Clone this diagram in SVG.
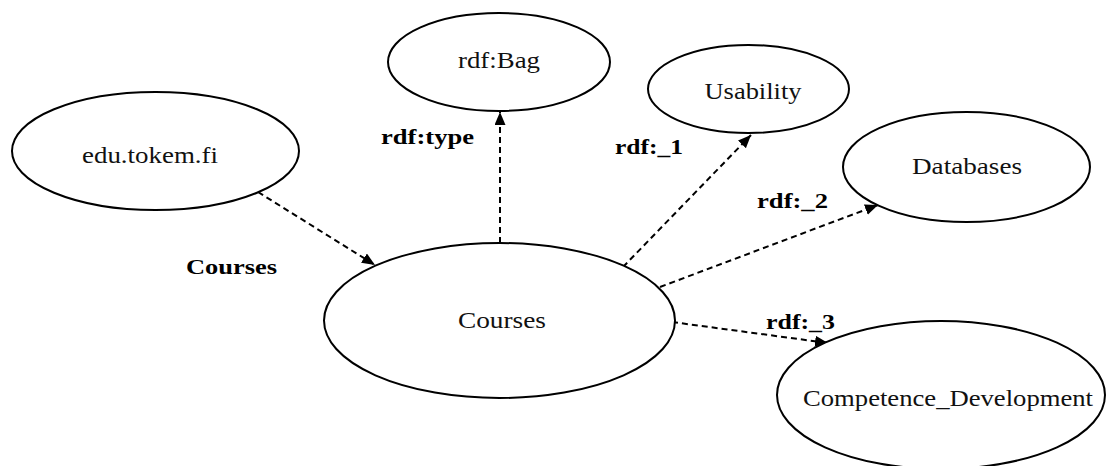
<svg xmlns="http://www.w3.org/2000/svg" width="1117" height="466" viewBox="0 0 1117 466">
  <style>
    .node ellipse { fill: #ffffff; stroke: #000000; stroke-width: 2; }
    .node text { font-family: "Liberation Serif", "Times New Roman", serif; font-size: 24px; fill: #111111; text-anchor: middle; }
    .edge { fill: none; stroke: #000000; stroke-width: 2; stroke-dasharray: 6 4; marker-end: url(#arrow); }
    .label { font-family: "Liberation Serif", "Times New Roman", serif; font-size: 22px; font-weight: bold; fill: #000000; }
  </style>
  <defs>
    <marker id="arrow" markerUnits="userSpaceOnUse" markerWidth="14" markerHeight="12" refX="13" refY="5.5" orient="auto">
      <path d="M0,0 L13,5.5 L0,11 z" fill="#000000"/>
    </marker>
  </defs>
  <rect width="1117" height="466" fill="#ffffff"/>

  <!-- connectors -->
  <g id="edges">
    <line class="edge" x1="258" y1="192" x2="375" y2="265"/>
    <line class="edge" x1="500" y1="243" x2="500" y2="112"/>
    <line class="edge" x1="623" y1="267" x2="751" y2="135"/>
    <line class="edge" x1="660" y1="287" x2="878" y2="205"/>
    <line class="edge" x1="672" y1="322" x2="828" y2="343"/>
  </g>

  <!-- edge labels -->
  <g id="edge-labels">
    <text class="label" x="186" y="274" textLength="91" lengthAdjust="spacingAndGlyphs">Courses</text>
    <text class="label" x="381" y="144" textLength="93" lengthAdjust="spacingAndGlyphs">rdf:type</text>
    <text class="label" x="615" y="154" textLength="68" lengthAdjust="spacingAndGlyphs">rdf:_1</text>
    <text class="label" x="757" y="208" textLength="71" lengthAdjust="spacingAndGlyphs">rdf:_2</text>
    <text class="label" x="766" y="329" textLength="69" lengthAdjust="spacingAndGlyphs">rdf:_3</text>
  </g>

  <g id="node-edu" class="node">
    <ellipse cx="155.5" cy="151" rx="143.5" ry="59"/>
    <text x="150" y="163" textLength="136" lengthAdjust="spacingAndGlyphs">edu.tokem.fi</text>
  </g>

  <g id="node-bag" class="node">
    <ellipse cx="499" cy="62" rx="111" ry="49"/>
    <text x="499" y="68" textLength="82" lengthAdjust="spacingAndGlyphs">rdf:Bag</text>
  </g>

  <g id="node-usability" class="node">
    <ellipse cx="748.5" cy="89" rx="100.5" ry="44"/>
    <text x="753" y="99" textLength="97" lengthAdjust="spacingAndGlyphs">Usability</text>
  </g>

  <g id="node-databases" class="node">
    <ellipse cx="966.5" cy="167" rx="123.5" ry="55"/>
    <text x="967" y="174" textLength="110" lengthAdjust="spacingAndGlyphs">Databases</text>
  </g>

  <g id="node-courses" class="node">
    <ellipse cx="499.5" cy="320.5" rx="175.5" ry="77.5"/>
    <text x="502" y="328" textLength="88" lengthAdjust="spacingAndGlyphs">Courses</text>
  </g>

  <g id="node-competence" class="node">
    <ellipse cx="941" cy="395" rx="164" ry="74"/>
    <text x="948" y="406" textLength="290" lengthAdjust="spacingAndGlyphs">Competence_Development</text>
  </g>
</svg>
